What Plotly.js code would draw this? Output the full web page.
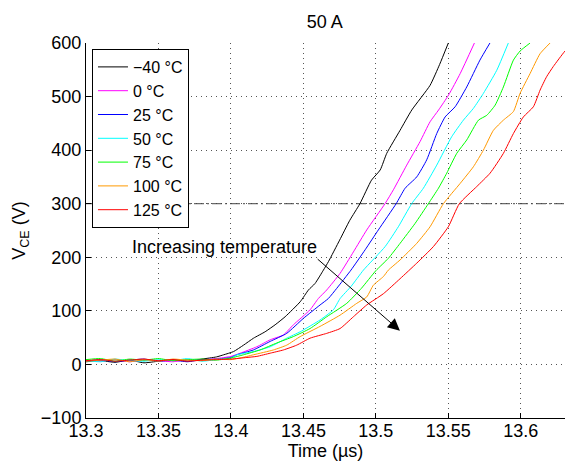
<!DOCTYPE html>
<html>
<head>
<meta charset="utf-8">
<script src="https://cdn.plot.ly/plotly-3.0.1.min.js"></script>
<style>html,body{margin:0;padding:0;background:#fff;}#chart{width:565px;height:462px;}</style>
</head>
<body>
<div id="chart"></div>
<script>
// ---- data ----
const seriesNames = ["\u221240 \u00b0C", "0 \u00b0C", "25 \u00b0C", "50 \u00b0C", "75 \u00b0C", "100 \u00b0C", "125 \u00b0C"];
const seriesColors = ["#000000", "#ff00ff", "#0000ff", "#00ffff", "#00ff00", "#ff9900", "#ff0000"];

const tM40 = [13.300,13.310,13.320,13.330,13.340,13.350,13.360,13.370,13.380,13.390,13.395,13.4018,13.4087,13.4156,13.4236,13.4305,13.4374,13.4478,13.4535,13.458,13.4638,13.4673,13.475,13.482,13.489,13.497,13.503,13.5075,13.5167,13.5248,13.5374,13.544,13.550];
const vM40 = [5,7,4,8,3,6,9,6,10,14,18,24,36,49,61,74,89,117,139,151,176,192,232,269,300,344,363,394,437,475,521,560,600];

const t0 = [13.300,13.310,13.320,13.330,13.340,13.350,13.360,13.370,13.380,13.390,13.400,13.4064,13.4179,13.4271,13.4362,13.4431,13.4546,13.4603,13.4661,13.4753,13.4845,13.4937,13.5063,13.5121,13.5213,13.5305,13.5374,13.5433,13.5502,13.5582,13.568];
const v0 = [8,6,9,5,8,7,5,9,8,11,15,21,33,46,55,74,102,123,139,170,210,251,300,326,372,416,453,475,503,543,600];

const t25 = [13.300,13.310,13.320,13.330,13.340,13.350,13.360,13.370,13.380,13.390,13.400,13.404,13.4155,13.4271,13.4385,13.450,13.4615,13.4672,13.473,13.4828,13.4926,13.5017,13.514,13.5202,13.5282,13.5351,13.542,13.5478,13.5547,13.5627,13.5718,13.5787];
const v25 = [6,9,5,8,10,6,8,5,9,10,13,18,27,43,58,86,111,123,142,176,214,251,300,329,350,382,431,462,481,518,568,600];

const t50 = [13.300,13.310,13.320,13.330,13.340,13.350,13.360,13.370,13.380,13.390,13.400,13.404,13.4155,13.4271,13.4385,13.4478,13.4615,13.4707,13.4753,13.483,13.4914,13.5064,13.5155,13.5247,13.5328,13.542,13.5523,13.5604,13.5673,13.5742,13.5834,13.5914];
const v50 = [7,5,10,7,6,9,7,11,6,9,12,18,24,33,49,61,83,102,123,146,176,220,257,300,329,372,425,456,478,506,549,600];

const t75 = [13.300,13.310,13.320,13.330,13.340,13.350,13.360,13.370,13.380,13.390,13.400,13.4086,13.4201,13.4316,13.4431,13.4546,13.4661,13.4799,13.490,13.500,13.5086,13.5167,13.527,13.5362,13.5432,13.5489,13.5558,13.5627,13.5708,13.5765,13.5823,13.588,13.5949,13.5995,13.6064];
const v75 = [9,11,6,10,8,11,7,9,10,8,12,18,27,40,52,67,89,114,142,175,198,226,263,300,329,357,394,419,456,465,484,518,568,585,600];

const t100 = [13.300,13.310,13.320,13.330,13.340,13.350,13.360,13.370,13.380,13.390,13.400,13.4064,13.4155,13.4293,13.4385,13.4478,13.4615,13.4753,13.4868,13.4937,13.4983,13.5052,13.5086,13.5167,13.5282,13.5374,13.5466,13.5582,13.5673,13.5742,13.5811,13.588,13.5949,13.5995,13.6064,13.6133,13.6202];
const v100 = [6,8,10,5,9,6,10,8,7,10,9,12,18,27,36,52,71,92,114,126,148,164,176,195,226,257,300,338,369,400,437,456,472,506,543,580,600];

const t125 = [13.300,13.310,13.320,13.330,13.340,13.350,13.360,13.370,13.380,13.390,13.400,13.411,13.4179,13.4271,13.4362,13.4454,13.4546,13.4661,13.4753,13.4845,13.4937,13.5052,13.5167,13.5282,13.5397,13.550,13.5576,13.5696,13.5788,13.588,13.5949,13.6018,13.6087,13.6133,13.6178,13.6224,13.6305,13.640];
const v125 = [7,9,6,8,10,7,9,6,8,9,10,13,15,21,27,36,49,58,67,89,111,132,160,189,220,257,300,332,357,394,431,462,481,512,537,556,585,610];

const seriesT = [tM40, t0, t25, t50, t75, t100, t125];
const seriesV = [vM40, v0, v25, v50, v75, v100, v125];

const thresholdV = 300;
const thresholdT = [13.3, 13.65];

const xTickVals = [13.3, 13.35, 13.4, 13.45, 13.5, 13.55, 13.6];
const xTickText = ["13.3", "13.35", "13.4", "13.45", "13.5", "13.55", "13.6"];
const xRange = [13.3, 13.6305];
const yRange = [-100, 600];

const annText = "Increasing temperature";
const annTextPos = [13.3953, 219];
const arrowTail = [13.4588, 199];
const arrowTip = [13.5166, 63];

// ---- traces ----
const traces = [];
traces.push({
  x: thresholdT, y: [thresholdV, thresholdV], mode: "lines", showlegend: false,
  line: {color: "#444444", width: 1, dash: "10px,3px,2px,3px"}, hoverinfo: "skip"
});
for (let i = 0; i < seriesNames.length; i++) {
  traces.push({
    x: seriesT[i], y: seriesV[i], mode: "lines", name: seriesNames[i],
    line: {color: seriesColors[i], width: 1, shape: "spline", smoothing: 0.5}
  });
}

const FONT = "Liberation Sans, Arial, sans-serif";
const FS = 18;
const layout = {
  width: 565, height: 462,
  margin: {l: 86, r: 0, t: 43, b: 44, pad: 0},
  paper_bgcolor: "#ffffff", plot_bgcolor: "#ffffff",
  font: {family: FONT, size: FS, color: "#000000"},
  title: {text: "50 A", x: 0.575, xanchor: "center", y: 0.952, yanchor: "middle", font: {family: FONT, size: FS, color: "#000"}},
  showlegend: true,
  legend: {
    x: 0.0125, y: 0.984, xanchor: "left", yanchor: "top",
    bgcolor: "#ffffff", bordercolor: "#000000", borderwidth: 1,
    font: {family: FONT, size: 16, color: "#000"}, traceorder: "normal"
  },
  xaxis: {
    range: xRange, tickvals: xTickVals, ticktext: xTickText,
    showline: true, linecolor: "#000", linewidth: 1,
    ticks: "inside", ticklen: 5, tickcolor: "#000",
    ticklabelstandoff: -4,
    showgrid: true, gridcolor: "#555", griddash: "1px,4px", gridwidth: 1,
    zeroline: false, mirror: false,
    title: {text: "Time (\u00b5s)", standoff: 0, font: {family: FONT, size: FS}},
    tickfont: {family: FONT, size: FS}
  },
  yaxis: {
    range: yRange, dtick: 100, tick0: 0,
    showline: true, linecolor: "#000", linewidth: 1,
    ticks: "inside", ticklen: 5, tickcolor: "#000",
    showgrid: true, gridcolor: "#555", griddash: "1px,4px", gridwidth: 1,
    zeroline: false,
    title: {text: "V<sub>CE</sub> (V)", standoff: 10, font: {family: FONT, size: FS}},
    tickfont: {family: FONT, size: FS}
  },
  annotations: [
    {x: annTextPos[0], y: annTextPos[1], xref: "x", yref: "y", text: annText, showarrow: false,
     font: {family: FONT, size: FS, color: "#000"}},
    {x: arrowTip[0], y: arrowTip[1], xref: "x", yref: "y", ax: arrowTail[0], ay: arrowTail[1],
     axref: "x", ayref: "y", text: "", showarrow: true, arrowhead: 2, arrowsize: 2.4, arrowwidth: 1, arrowcolor: "#000"}
  ]
};

Plotly.newPlot("chart", traces, layout, {staticPlot: true, displayModeBar: false});
</script>
</body>
</html>
